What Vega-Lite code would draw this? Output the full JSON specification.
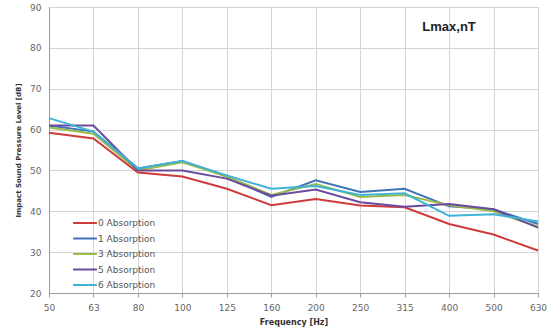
{
  "$schema": "https://vega.github.io/schema/vega-lite/v6.json",
  "width": 489,
  "height": 286,
  "autosize": {"type": "none"},
  "padding": {"left": 49, "top": 7, "right": 19, "bottom": 37},
  "background": "white",
  "config": {
    "view": {"stroke": "#9a9a9a", "strokeWidth": 1},
    "font": "DejaVu Sans"
  },
  "datasets": {
    "lines": [
      {"f": "50", "s": "0 Absorption", "v": 59.2},
      {"f": "63", "s": "0 Absorption", "v": 57.8},
      {"f": "80", "s": "0 Absorption", "v": 49.5},
      {"f": "100", "s": "0 Absorption", "v": 48.5},
      {"f": "125", "s": "0 Absorption", "v": 45.5},
      {"f": "160", "s": "0 Absorption", "v": 41.5},
      {"f": "200", "s": "0 Absorption", "v": 43.0},
      {"f": "250", "s": "0 Absorption", "v": 41.4},
      {"f": "315", "s": "0 Absorption", "v": 41.0},
      {"f": "400", "s": "0 Absorption", "v": 36.9},
      {"f": "500", "s": "0 Absorption", "v": 34.3},
      {"f": "630", "s": "0 Absorption", "v": 30.4},
      {"f": "50", "s": "1 Absorption", "v": 61.0},
      {"f": "63", "s": "1 Absorption", "v": 59.5},
      {"f": "80", "s": "1 Absorption", "v": 50.5},
      {"f": "100", "s": "1 Absorption", "v": 52.3},
      {"f": "125", "s": "1 Absorption", "v": 48.5},
      {"f": "160", "s": "1 Absorption", "v": 43.5},
      {"f": "200", "s": "1 Absorption", "v": 47.6},
      {"f": "250", "s": "1 Absorption", "v": 44.7},
      {"f": "315", "s": "1 Absorption", "v": 45.5},
      {"f": "400", "s": "1 Absorption", "v": 41.2},
      {"f": "500", "s": "1 Absorption", "v": 40.5},
      {"f": "630", "s": "1 Absorption", "v": 36.9},
      {"f": "50", "s": "3 Absorption", "v": 60.5},
      {"f": "63", "s": "3 Absorption", "v": 59.0},
      {"f": "80", "s": "3 Absorption", "v": 50.0},
      {"f": "100", "s": "3 Absorption", "v": 52.0},
      {"f": "125", "s": "3 Absorption", "v": 48.5},
      {"f": "160", "s": "3 Absorption", "v": 44.0},
      {"f": "200", "s": "3 Absorption", "v": 46.7},
      {"f": "250", "s": "3 Absorption", "v": 43.5},
      {"f": "315", "s": "3 Absorption", "v": 44.0},
      {"f": "400", "s": "3 Absorption", "v": 41.5},
      {"f": "500", "s": "3 Absorption", "v": 40.0},
      {"f": "630", "s": "3 Absorption", "v": 36.2},
      {"f": "50", "s": "5 Absorption", "v": 61.0},
      {"f": "63", "s": "5 Absorption", "v": 61.0},
      {"f": "80", "s": "5 Absorption", "v": 50.0},
      {"f": "100", "s": "5 Absorption", "v": 50.0},
      {"f": "125", "s": "5 Absorption", "v": 48.0},
      {"f": "160", "s": "5 Absorption", "v": 43.8},
      {"f": "200", "s": "5 Absorption", "v": 45.3},
      {"f": "250", "s": "5 Absorption", "v": 42.2},
      {"f": "315", "s": "5 Absorption", "v": 41.1},
      {"f": "400", "s": "5 Absorption", "v": 41.8},
      {"f": "500", "s": "5 Absorption", "v": 40.5},
      {"f": "630", "s": "5 Absorption", "v": 36.0},
      {"f": "50", "s": "6 Absorption", "v": 62.8},
      {"f": "63", "s": "6 Absorption", "v": 59.5},
      {"f": "80", "s": "6 Absorption", "v": 50.5},
      {"f": "100", "s": "6 Absorption", "v": 52.3},
      {"f": "125", "s": "6 Absorption", "v": 48.8},
      {"f": "160", "s": "6 Absorption", "v": 45.5},
      {"f": "200", "s": "6 Absorption", "v": 46.2},
      {"f": "250", "s": "6 Absorption", "v": 44.0},
      {"f": "315", "s": "6 Absorption", "v": 44.4},
      {"f": "400", "s": "6 Absorption", "v": 38.9},
      {"f": "500", "s": "6 Absorption", "v": 39.3},
      {"f": "630", "s": "6 Absorption", "v": 37.5}
    ],
    "label": [{"f": "400", "v": 85.2, "t": "Lmax,nT"}]
  },
  "layer": [
    {
      "data": {"name": "lines"},
      "mark": {"type": "line", "strokeWidth": 2},
      "encoding": {
        "x": {
          "field": "f", "type": "ordinal",
          "sort": ["50","63","80","100","125","160","200","250","315","400","500","630"],
          "scale": {"type": "point", "padding": 0},
          "axis": {
            "title": "Frequency [Hz]", "titleFontSize": 8, "titleFontWeight": "bold",
            "titleColor": "#333", "titlePadding": 6,
            "labelAngle": 0, "labelFontSize": 9, "labelColor": "#666", "labelPadding": 6,
            "grid": true, "gridColor": "#d4d4d4", "domain": true, "domainColor": "#9a9a9a",
            "ticks": true, "tickColor": "#9a9a9a", "tickSize": 4
          }
        },
        "y": {
          "field": "v", "type": "quantitative",
          "scale": {"domain": [20, 90], "nice": false},
          "axis": {
            "title": "Impact Sound Pressure Level [dB]", "titleFontSize": 7, "titleFontWeight": "bold",
            "titleColor": "#333", "titlePadding": 8,
            "values": [20,30,40,50,60,70,80,90],
            "labelFontSize": 9, "labelColor": "#666", "labelPadding": 8,
            "grid": true, "gridColor": "#d4d4d4", "domain": true, "domainColor": "#9a9a9a",
            "ticks": false
          }
        },
        "color": {
          "field": "s", "type": "nominal",
          "scale": {
            "domain": ["0 Absorption","1 Absorption","3 Absorption","5 Absorption","6 Absorption"],
            "range": ["#cf3b3b","#3f74b8","#9bbb4a","#6a4b9e","#3fb2d6"]
          },
          "legend": {
            "title": null, "orient": "none", "legendX": 28, "legendY": 208,
            "symbolType": "M-1.7,0H1.7", "symbolStrokeWidth": 2, "symbolSize": 196,
            "symbolFillColor": "transparent",
            "labelFontSize": 9, "labelColor": "#555", "labelOffset": 5,
            "rowPadding": 2.5
          }
        }
      }
    },
    {
      "data": {"name": "label"},
      "mark": {"type": "text", "fontSize": 13, "fontWeight": "bold", "color": "#222", "align": "center", "font": "Liberation Sans"},
      "encoding": {
        "x": {"field": "f", "type": "ordinal", "sort": ["50","63","80","100","125","160","200","250","315","400","500","630"]},
        "y": {"field": "v", "type": "quantitative"},
        "text": {"field": "t"}
      }
    }
  ]
}
